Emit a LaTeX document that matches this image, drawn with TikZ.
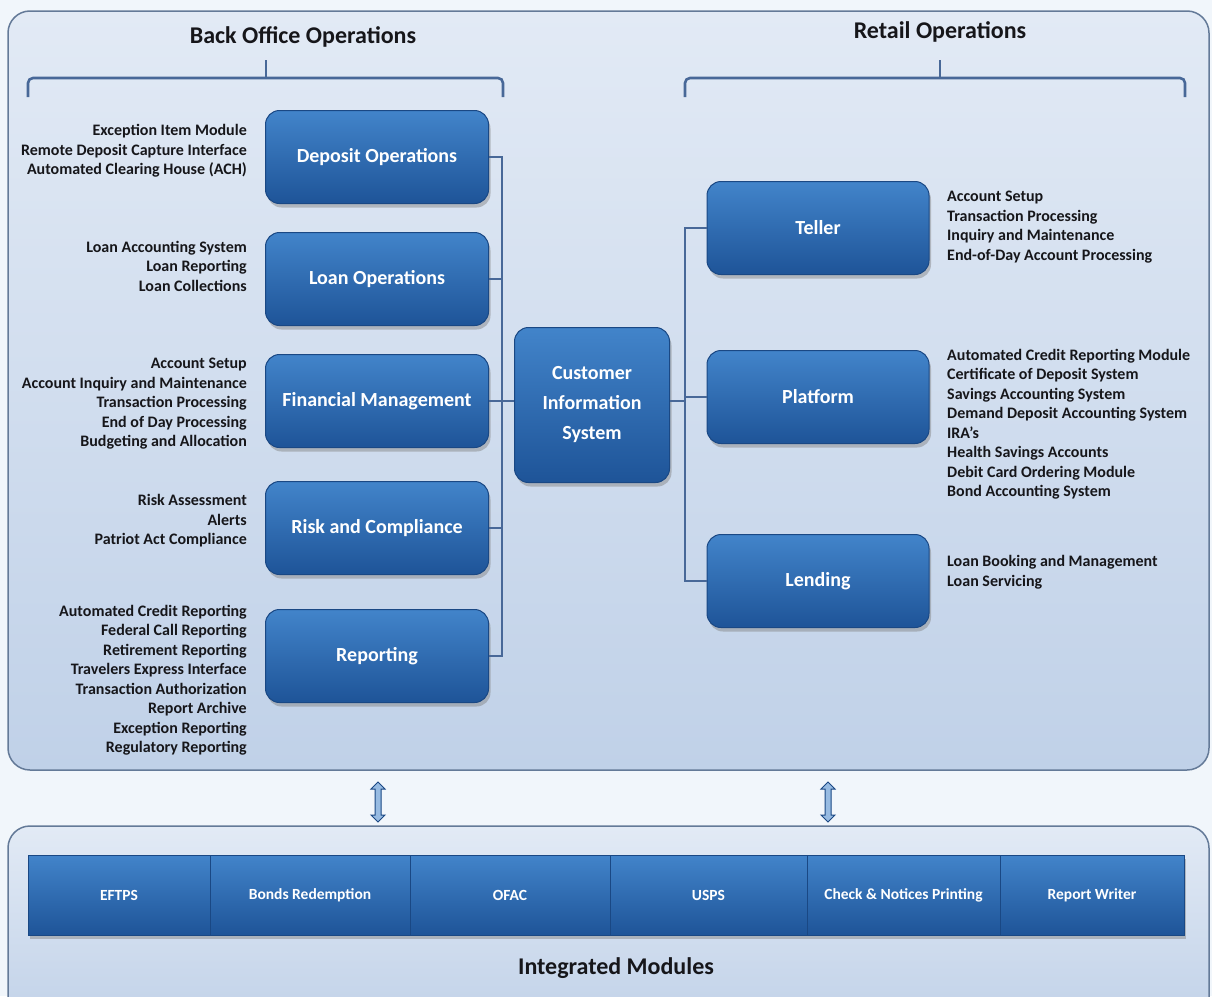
\documentclass[tikz,border=0pt]{standalone}
\usepackage{fontspec}
\setmainfont{Carlito}
\usetikzlibrary{positioning,shadows,shapes.arrows}
\definecolor{pagecolor}{RGB}{241,246,251}
\definecolor{paneltop}{RGB}{226,234,245}
\definecolor{panelbot}{RGB}{192,209,232}
\definecolor{panelline}{RGB}{100,122,152}
\definecolor{boxtop}{RGB}{66,132,202}
\definecolor{boxbot}{RGB}{30,84,152}
\definecolor{boxline}{RGB}{26,72,132}
\definecolor{linkcolor}{RGB}{72,104,152}
\definecolor{inkcolor}{RGB}{22,22,26}

\begin{document}
\begin{tikzpicture}[%
    x=1pt, y=-1pt,              % work on the pixel grid of the sketch
    node distance=0pt,          % module bar is packed edge to edge
    ]
\tikzset{
  panel/.style={draw=panelline, line width=1.5pt, rounded corners=22pt,
    top color=paneltop, bottom color=panelbot},
  base/.style={draw=boxline, line width=1pt, top color=boxtop, bottom color=boxbot,
    text=white, align=center, inner sep=2pt,
    drop shadow={shadow xshift=2pt, shadow yshift=-4pt, opacity=0.45}},
  unit/.style={base, rounded corners=14pt, minimum width=223pt, minimum height=93pt,
    font=\fontsize{20}{30}\selectfont\bfseries},
  hub/.style={unit, minimum width=155pt, minimum height=155pt},
  modl/.style={base, outer sep=0pt, minimum height=80pt, font=\fontsize{15.5}{18}\selectfont\bfseries},
  item/.style={text=inkcolor, inner sep=0pt, font=\fontsize{16}{19.5}\selectfont\bfseries},
  head/.style={text=inkcolor, font=\fontsize{24}{28}\selectfont\bfseries},
  link/.style={draw=linkcolor, line width=1.6pt},
  brace/.style={draw=linkcolor, line width=2.6pt, rounded corners=5pt},
  dbl/.style={double arrow, draw=boxline, fill=boxtop!55!white, line width=1pt,
    minimum height=40pt, inner sep=2.5pt, double arrow head extend=4pt},
}
\useasboundingbox (0,0) rectangle (1212,996);
\clip (0,0) rectangle (1212,996);
\fill[pagecolor] (0,0) rectangle (1212,996);

% panels
\draw[panel] (8,11) rectangle (1209,770);
\draw[panel] (8,826) rectangle (1209,1030);

% headings and braces
\node[head] (t1) at (303,37) {Back Office Operations};
\node[head] (t2) at (940,32) {Retail Operations};
\node[head] (t3) at (616,968) {Integrated Modules};
\draw[brace] (28,97) -- (28,78) -- (503,78) -- (503,97);
\draw[brace] (266,78) -- (266,60);
\draw[brace] (685,97) -- (685,78) -- (1185,78) -- (1185,97);
\draw[brace] (940,78) -- (940,60);

% back office
\node[unit] (b1) at (377,157) {Deposit Operations};
\node[unit] (b2) at (377,279) {Loan Operations};
\node[unit] (b3) at (377,401) {Financial Management};
\node[unit] (b4) at (377,528) {Risk and Compliance};
\node[unit] (b5) at (377,656) {Reporting};

\node[item, anchor=east, align=right] (b1t) at (247,151) {Exception Item Module\\Remote Deposit Capture Interface\\Automated Clearing House (ACH)};
\node[item, anchor=east, align=right] (b2t) at (247,266) {Loan Accounting System\\Loan Reporting\\Loan Collections};
\node[item, anchor=east, align=right] (b3t) at (247,404) {Account Setup\\Account Inquiry and Maintenance\\Transaction Processing\\End of Day Processing\\Budgeting and Allocation};
\node[item, anchor=east, align=right] (b4t) at (247,521) {Risk Assessment\\Alerts\\Patriot Act Compliance};
\node[item, anchor=east, align=right] (b5t) at (247,680) {Automated Credit Reporting\\Federal Call Reporting\\Retirement Reporting\\Travelers Express Interface\\Transaction Authorization\\Report Archive\\Exception Reporting\\Regulatory Reporting};

% hub
\node[hub] (cis) at (592,405) {Customer\\Information\\System};

% retail
\node[unit, minimum width=222pt] (r1) at (818,228) {Teller};
\node[unit, minimum width=222pt] (r2) at (818,397) {Platform};
\node[unit, minimum width=222pt] (r3) at (818,581) {Lending};

\node[item, anchor=west, align=left] (r1t) at (947,227) {Account Setup\\Transaction Processing\\Inquiry and Maintenance\\End-of-Day Account Processing};
\node[item, anchor=west, align=left] (r2t) at (947,424) {Automated Credit Reporting Module\\Certificate of Deposit System\\Savings Accounting System\\Demand Deposit Accounting System\\IRA's\\Health Savings Accounts\\Debit Card Ordering Module\\Bond Accounting System};
\node[item, anchor=west, align=left] (r3t) at (947,572) {Loan Booking and Management\\Loan Servicing};

% connectors
\coordinate (lbus) at (502,401);
\coordinate (rbus) at (685,401);
\draw[link] (b1.east) -| (lbus);
\draw[link] (b2.east) -| (lbus);
\draw[link] (b3.east) -- (lbus);
\draw[link] (b4.east) -| (lbus);
\draw[link] (b5.east) -| (lbus);
\draw[link] (lbus) -- (cis.west |- lbus);
\draw[link] (cis.east |- rbus) -- (rbus);
\draw[link] (r1.west) -| (rbus);
\draw[link] (r2.west) -| (rbus);
\draw[link] (r3.west) -| (rbus);

% integrated modules
\node[modl, minimum width=182pt, anchor=west] (m1) at (28,895) {EFTPS};
\node[modl, minimum width=200pt, right=of m1] (m2) {Bonds Redemption};
\node[modl, minimum width=200pt, right=of m2] (m3) {OFAC};
\node[modl, minimum width=197pt, right=of m3] (m4) {USPS};
\node[modl, minimum width=193pt, right=of m4] (m5) {Check \& Notices Printing};
\node[modl, minimum width=184pt, right=of m5] (m6) {Report Writer};

\node[dbl, rotate=90] (a1) at (378,802) {};
\node[dbl, rotate=90] (a2) at (828,802) {};

\end{tikzpicture}
\end{document}
